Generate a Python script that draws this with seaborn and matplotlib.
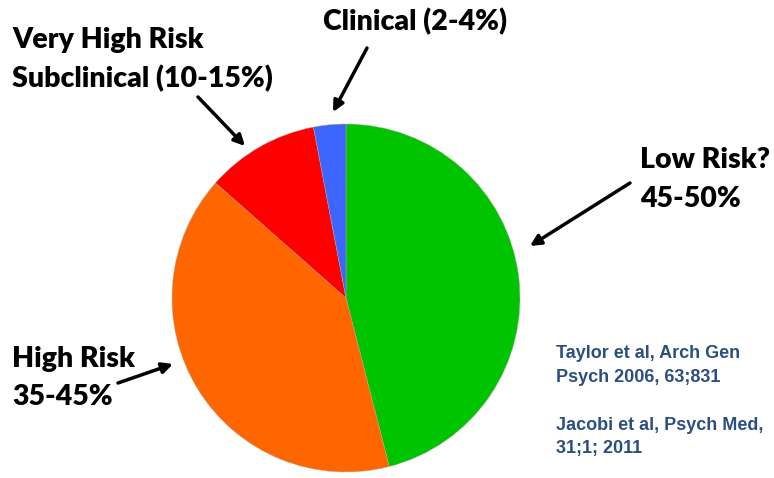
import matplotlib
matplotlib.use("Agg")
import matplotlib.pyplot as plt
import seaborn as sns

# slice data, clockwise from 12 o'clock
groups = ["Low Risk", "High Risk", "Very High Risk", "Clinical"]
shares = [46.0, 40.5, 10.5, 3.0]
colors = ["#00c400", "#ff6600", "#ff0000", "#3d66ff"]

label_lines = {
    "Very High Risk": ["Very High Risk", "Subclinical (10-15%)"],
    "Clinical": ["Clinical (2-4%)"],
    "Low Risk": ["Low Risk?", "45-50%"],
    "High Risk": ["High Risk", "35-45%"],
}
citations = ["Taylor et al, Arch Gen", "Psych 2006, 63;831", "",
             "Jacobi et al, Psych Med,", "31;1; 2011"]

sns.set_theme(style="white")
plt.rcParams["font.family"] = ["Lato", "DejaVu Sans"]

W, H = 774, 478
fig = plt.figure(figsize=(W / 100, H / 100), dpi=100)
fig.patch.set_facecolor("white")

# pie centre (346, 298) px, radius 174 px
cx, cy, r = 346, 298, 174
ax = fig.add_axes([(cx - r) / W, (H - cy - r) / H, 2 * r / W, 2 * r / H])
ax.pie(shares, colors=colors, startangle=90, counterclock=False,
       wedgeprops=dict(linewidth=0.3, edgecolor="#aaaaaa"))
ax.set_xlim(-1, 1)
ax.set_ylim(-1, 1)
ax.axis("off")


def px(x, y):
    return (x / W, 1 - y / H)


lab_kw = dict(fontsize=20.5, fontweight="heavy", color="black", va="center", ha="left")

fig.text(*px(12, 40), label_lines["Very High Risk"][0], **lab_kw)
fig.text(*px(12, 79), label_lines["Very High Risk"][1], **lab_kw)
fig.text(*px(323, 22), label_lines["Clinical"][0], **lab_kw)
fig.text(*px(640, 160), label_lines["Low Risk"][0], **lab_kw)
fig.text(*px(640, 199), label_lines["Low Risk"][1], **lab_kw)
fig.text(*px(12, 359), label_lines["High Risk"][0], **lab_kw)
fig.text(*px(12, 397), label_lines["High Risk"][1], **lab_kw)

cite_y = [353, 377, 401, 425, 448]
for line, yy in zip(citations, cite_y):
    if line:
        fig.text(*px(556, yy), line, fontsize=13, fontweight="bold",
                 color="#2b4f81", family=["Liberation Sans", "DejaVu Sans"],
                 va="center", ha="left")

# arrows (start -> tip) in pixels
arrows = [((198, 97), (245, 146)),
          ((367, 48), (333, 112)),
          ((630, 183), (530, 246)),
          ((118, 383), (173, 364))]
for (x0, y0), (x1, y1) in arrows:
    fig.add_artist(matplotlib.patches.FancyArrowPatch(
        px(x0, y0), px(x1, y1), transform=fig.transFigure,
        arrowstyle="-|>", mutation_scale=16, lw=2.5, color="black",
        shrinkA=0, shrinkB=0))

fig.savefig("out.png", dpi=100, facecolor="white")
